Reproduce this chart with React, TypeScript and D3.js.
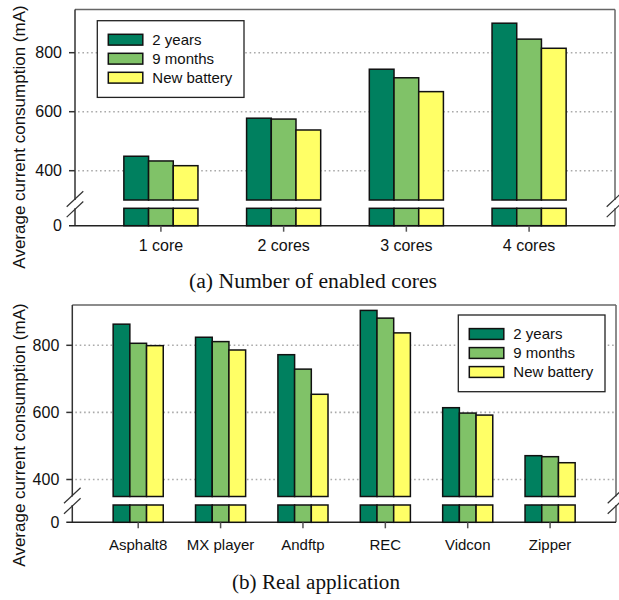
import React from "react";
import * as d3 from "d3";

const seriesNames = ["2 years", "9 months", "New battery"];
const seriesColors = ["#00805F", "#80C268", "#FFFF66"];

const coresCategories = ["1 core", "2 cores", "3 cores", "4 cores"];
const cores2Years = [449, 578, 744, 900];
const cores9Months = [433, 575, 715, 846];
const coresNew = [417, 538, 668, 815];

const appCategories = ["Asphalt8", "MX player", "Andftp", "REC", "Vidcon", "Zipper"];
const app2Years = [863, 824, 772, 904, 614, 471];
const app9Months = [806, 811, 729, 881, 598, 468];
const appNew = [799, 786, 654, 837, 592, 450];

const yTicks = [400, 600, 800];

const SANS = "'Liberation Sans', Arial, sans-serif";
const SERIF = "'Liberation Serif', 'Times New Roman', serif";

type PanelProps = {
  categories: string[];
  series: number[][];
  left: number;
  right: number;
  top: number;
  axisY: number;
  y400: number;
  y800: number;
  upperBottom: number;
  stubTop: number;
  padding: number;
  barW: number;
  legendX: number;
  legendY: number;
  catLabelY: number;
  catFont: number;
  caption: string;
  captionY: number;
  captionX: number;
  captionLen: number;
  yLabelY: number;
};

function Panel(p: PanelProps) {
  const x = d3.scalePoint<string>().domain(p.categories).range([p.left, p.right]).padding(p.padding);
  const y = d3.scaleLinear().domain([400, 800]).range([p.y400, p.y800]);
  const gapA = p.upperBottom;
  const gapB = p.stubTop;
  const brk = (cx: number) => {
    const mid1 = gapA - 1;
    const mid2 = gapB + 1;
    const dx = 8.3, dy = 7.8;
    return (
      <g stroke="#333" strokeWidth={1.2}>
        <line x1={cx - dx} y1={mid1 + dy} x2={cx + dx} y2={mid1 - dy} />
        <line x1={cx - dx} y1={mid2 + dy} x2={cx + dx} y2={mid2 - dy} />
      </g>
    );
  };
  return (
    <g>
      {yTicks.map((t) => (
        <line key={t} x1={p.left + 3} x2={p.right} y1={y(t)} y2={y(t)} stroke="#aaa" strokeWidth={1.6} strokeDasharray="1.6 2.8" />
      ))}
      <line x1={p.left} x2={p.right} y1={p.top} y2={p.top} stroke="#666" strokeWidth={1.5} />
      <line x1={p.right} x2={p.right} y1={p.top} y2={gapA} stroke="#666" strokeWidth={1.5} />
      <line x1={p.right} x2={p.right} y1={gapB} y2={p.axisY} stroke="#666" strokeWidth={1.5} />
      <line x1={p.left} x2={p.left} y1={p.top} y2={gapA} stroke="#333" strokeWidth={1.5} />
      <line x1={p.left} x2={p.left} y1={gapB} y2={p.axisY} stroke="#333" strokeWidth={1.5} />
      <line x1={p.left - 6} x2={p.right} y1={p.axisY} y2={p.axisY} stroke="#222" strokeWidth={1.5} />
      {brk(p.left)}
      {brk(p.right)}
      {yTicks.map((t) => (
        <g key={t}>
          <line x1={p.left - 6} x2={p.left} y1={y(t)} y2={y(t)} stroke="#333" strokeWidth={1.5} />
          <text x={p.left - 13} y={y(t)} dy="0.36em" textAnchor="end" fontFamily={SANS} fontSize={16} fill="#111">{t}</text>
        </g>
      ))}
      <text x={p.left - 13} y={p.axisY} dy="0.36em" textAnchor="end" fontFamily={SANS} fontSize={16} fill="#111">0</text>
      {p.categories.map((c, i) => {
        const cx = x(c)!;
        const x0 = cx - (p.barW * p.series.length) / 2;
        return (
          <g key={c}>
            {p.series.map((s, k) => (
              <g key={k}>
                <rect x={x0 + k * p.barW} y={y(s[i])} width={p.barW} height={gapA - y(s[i])} fill={seriesColors[k]} stroke="#111" strokeWidth={1.5} />
                <rect x={x0 + k * p.barW} y={gapB} width={p.barW} height={p.axisY - gapB} fill={seriesColors[k]} stroke="#111" strokeWidth={1.5} />
              </g>
            ))}
            <line x1={cx} x2={cx} y1={p.axisY} y2={p.axisY + 6} stroke="#555" strokeWidth={1.5} />
            <text x={cx} y={p.catLabelY} textAnchor="middle" fontFamily={SANS} fontSize={p.catFont} fill="#111">{c}</text>
          </g>
        );
      })}
      <g transform={`translate(${p.legendX},${p.legendY})`}>
        <rect x={0} y={0} width={146.7} height={76.7} fill="#fff" stroke="#222" strokeWidth={1.3} />
        {seriesNames.map((n, k) => (
          <g key={n} transform={`translate(11,${13.6 + k * 19})`}>
            <rect x={0} y={0} width={34.5} height={10.8} fill={seriesColors[k]} stroke="#111" strokeWidth={1.5} />
            <text x={44} y={5.4} dy="0.36em" fontFamily={SANS} fontSize={15} fill="#111">{n}</text>
          </g>
        ))}
      </g>
      <text transform={`translate(18.5,${p.yLabelY}) rotate(-90)`} textAnchor="middle" dy="0.36em" fontFamily={SANS} fontSize={17} fill="#111">Average current consumption (mA)</text>
      <text x={p.captionX} y={p.captionY} textAnchor="middle" fontFamily={SERIF} fontSize={20} textLength={p.captionLen} lengthAdjust="spacingAndGlyphs" fill="#111">{p.caption}</text>
    </g>
  );
}

export default function App() {
  return (
    <svg width={619} height={600} style={{ position: "absolute", left: 0, top: 0, background: "#fff" }}>
      <rect x={0} y={0} width={619} height={600} fill="#fff" />
      <Panel
        categories={coresCategories}
        series={[cores2Years, cores9Months, coresNew]}
        left={75}
        right={615}
        top={9.5}
        axisY={225.7}
        y400={170.7}
        y800={52.7}
        upperBottom={200}
        stubTop={208.3}
        padding={0.7}
        barW={24.7}
        legendX={97.3}
        legendY={20.7}
        catLabelY={251}
        catFont={16}
        caption="(a) Number of enabled cores"
        captionY={288}
        captionX={313}
        captionLen={248}
        yLabelY={137}
      />
      <Panel
        categories={appCategories}
        series={[app2Years, app9Months, appNew]}
        left={72.3}
        right={616}
        top={305}
        axisY={522.3}
        y400={479.5}
        y800={345.3}
        upperBottom={496.5}
        stubTop={505}
        padding={0.8}
        barW={16.7}
        legendX={458.3}
        legendY={315}
        catLabelY={550}
        catFont={15}
        caption="(b) Real application"
        captionY={589}
        captionX={316}
        captionLen={168}
        yLabelY={435}
      />
    </svg>
  );
}
